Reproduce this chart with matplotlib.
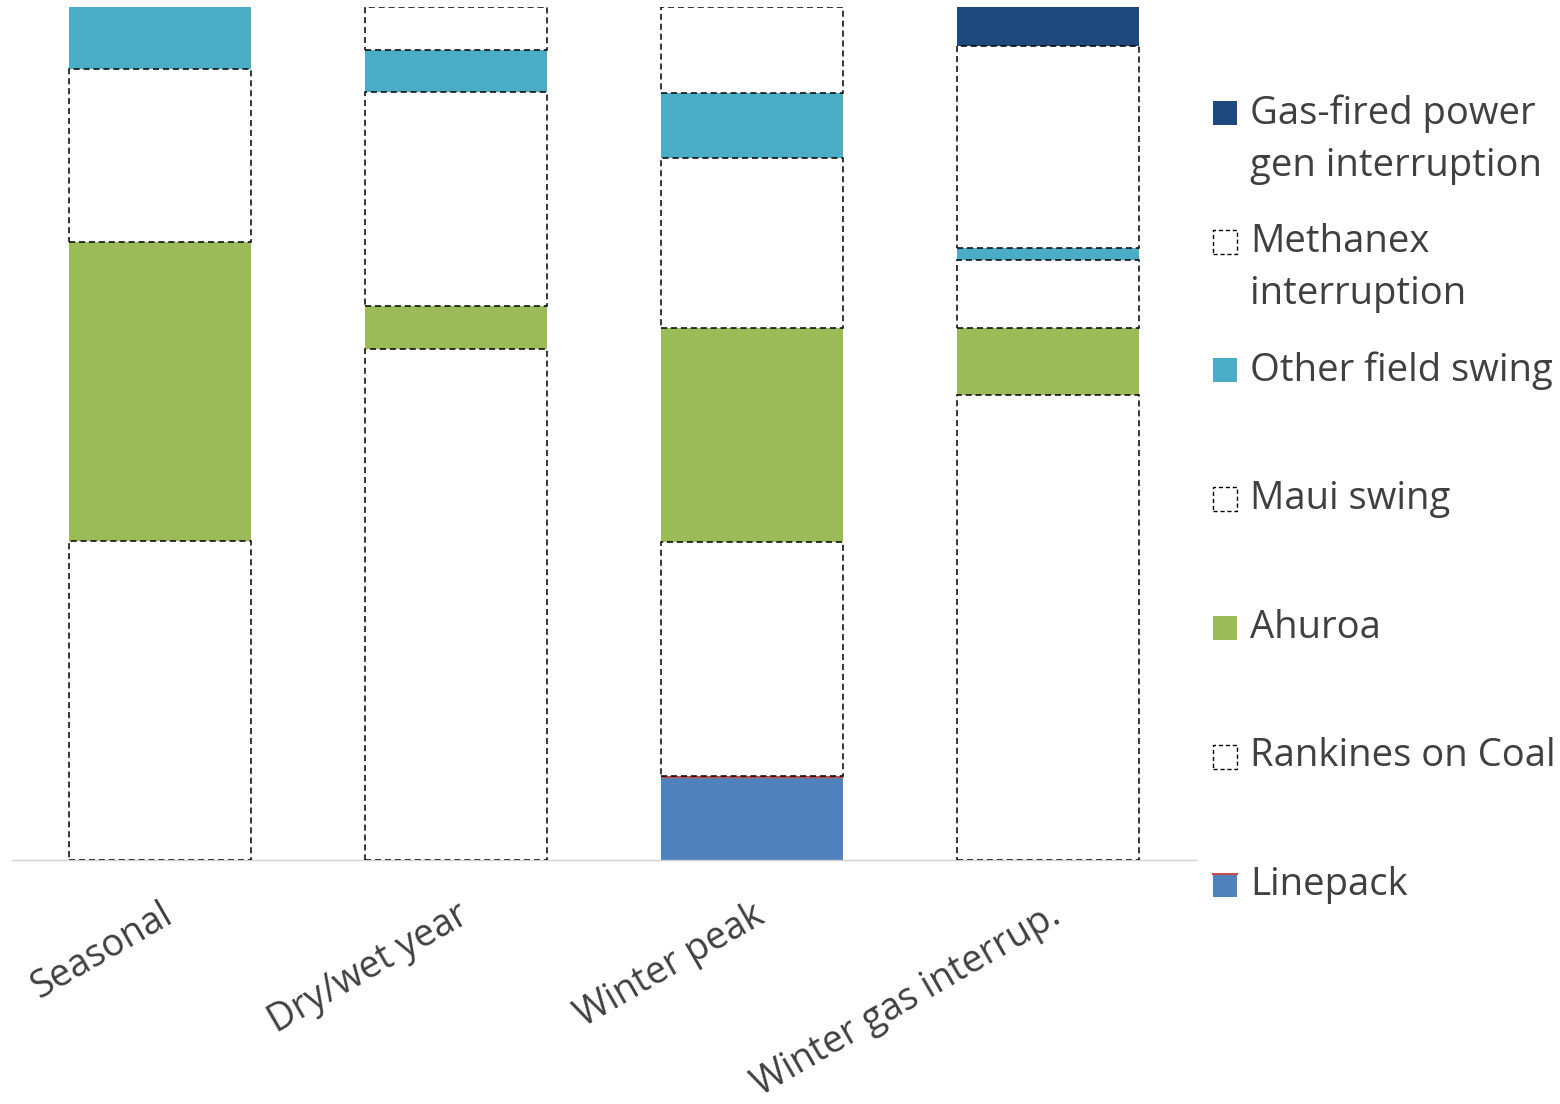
import numpy as np
import matplotlib.pyplot as plt
from matplotlib.patches import Rectangle

plt.rcParams['font.family'] = ['Open Sans', 'DejaVu Sans']

categories = ['Seasonal', 'Dry/wet year', 'Winter peak', 'Winter gas interrup.']

# share of flexibility (%) per source, bottom to top of the stack
linepack  = [0.0, 0.0, 9.8, 0.0]
rankines  = [37.4, 59.9, 27.5, 54.5]
ahuroa    = [35.1, 5.0, 25.1, 7.9]
maui      = [20.2, 25.1, 19.9, 7.9]
other     = [7.3, 5.0, 7.6, 1.5]
methanex  = [0.0, 5.0, 10.1, 23.6]
gas_fired = [0.0, 0.0, 0.0, 4.6]

series = [
    ('Linepack', linepack, '#4F81BD', False),
    ('Rankines on Coal', rankines, 'white', True),
    ('Ahuroa', ahuroa, '#9BBB59', False),
    ('Maui swing', maui, 'white', True),
    ('Other field swing', other, '#4BACC6', False),
    ('Methanex\ninterruption', methanex, 'white', True),
    ('Gas-fired power\ngen interruption', gas_fired, '#1F497D', False),
]

W, H = 1560, 1104
fig = plt.figure(figsize=(W / 100, H / 100), dpi=100)
ax = fig.add_axes([12 / W, 1 - 860 / H, 1184 / W, 853 / H])

x = np.arange(len(categories))
bottom = np.zeros(len(categories))
for name, vals, color, dashed in series:
    vals = np.array(vals)
    m = vals > 0
    if dashed:
        ax.bar(x[m], vals[m], bottom=bottom[m], width=0.618, color='white',
               edgecolor='black', linestyle=(0, (4, 2.5)), linewidth=1.1, zorder=3)
    else:
        ax.bar(x[m], vals[m], bottom=bottom[m], width=0.618, color=color,
               edgecolor='none', zorder=2)
    if name == 'Linepack':
        for xi, top in zip(x[m], vals[m]):
            ax.plot([xi - 0.309, xi + 0.309], [top, top], color='#C0504D',
                    linewidth=2.5, zorder=2.5, solid_capstyle='butt')
    bottom += vals

ax.set_xlim(-0.5, 3.5)
ax.set_ylim(0, 100)
for s in ['top', 'right', 'left']:
    ax.spines[s].set_visible(False)
ax.spines['bottom'].set_color('#d0d0d0')
ax.spines['bottom'].set_linewidth(1.0)
ax.set_yticks([])
ax.set_xticks(x)
ax.set_xticklabels(categories, rotation=30, ha='right', rotation_mode='anchor',
                   fontsize=27, color='#404040')
ax.tick_params(axis='x', length=0, pad=26)

# legend drawn by hand, top entry first
for i, (name, vals, color, dashed) in enumerate(reversed(series)):
    yc = 1 - (113 + i * 128.7) / H
    box = Rectangle((1213 / W, yc - 12 / H), 24 / W, 24 / H, transform=fig.transFigure,
                    facecolor=color if not dashed else 'white',
                    edgecolor='black' if dashed else 'none',
                    linestyle=(0, (3, 2)) if dashed else '-', linewidth=1.0)
    fig.patches.append(box)
    if name == 'Linepack':
        fig.add_artist(plt.Line2D([1213 / W, 1237 / W], [yc + 11 / H, yc + 11 / H],
                                  transform=fig.transFigure, color='#C0504D', linewidth=1.5))
    fig.text(1250 / W, yc + 19 / H, name, fontsize=27.5, color='#404040', va='top',
             ha='left', linespacing=1.5)

fig.savefig('out.png', dpi=100)
